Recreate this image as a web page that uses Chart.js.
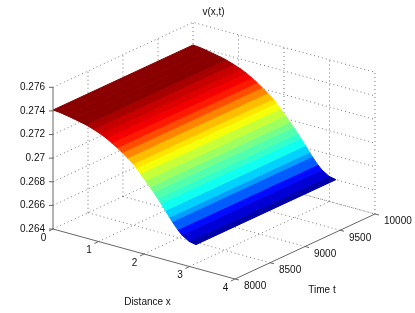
<!DOCTYPE html>
<html>
<head>
<meta charset="utf-8">
<title>v(x,t)</title>
<script src="https://cdn.jsdelivr.net/npm/chart.js@4/dist/chart.umd.min.js"></script>
<style>
    html, body { margin: 0; padding: 0; background: #fff; }
    canvas { display: block; }
</style>
</head>
<body>
<canvas id="surfaceChart" width="415" height="313"></canvas>
<script>
// tick values and labels
var xTicks = [0, 1, 2, 3, 4];
var tTicks = [8000, 8500, 9000, 9500, 10000];
var vTicks = [0.264, 0.266, 0.268, 0.27, 0.272, 0.274, 0.276];
var vTickLabels = ['0.264', '0.266', '0.268', '0.27', '0.272', '0.274', '0.276'];

// surface profile: v along x, same for every t
var surfaceX = [0, 0.15, 0.30, 0.45, 0.60, 0.72, 0.89, 1.05, 1.17, 1.29, 1.41, 1.52, 1.64, 1.76,
    1.83, 1.92, 2.03, 2.13, 2.21, 2.30, 2.37, 2.47, 2.56, 2.62, 2.74, 2.83, 2.99, 3.14];
var surfaceV = [0.27408, 0.27403, 0.27393, 0.27382, 0.27370, 0.27360, 0.27338, 0.27315, 0.27293, 0.27266,
    0.27238, 0.27208, 0.27175, 0.27138, 0.27110, 0.27072, 0.27025, 0.26982, 0.26946, 0.26903,
    0.26868, 0.26818, 0.26770, 0.26740, 0.26685, 0.26650, 0.26612, 0.26600];
// colormap position of each strip
var stripLevels = [0.99, 0.99, 0.99, 0.99, 0.99, 0.96, 0.93, 0.907, 0.886, 0.85, 0.80, 0.745, 0.69,
    0.65, 0.615, 0.57, 0.53, 0.49, 0.455, 0.425, 0.39, 0.33, 0.28, 0.215, 0.135, 0.085, 0.04];
var surfaceT = [8000, 10000];

// view of the 3d box on the plane of the two hidden scales
function project(x, t, v) {
    return {
        x: 53 + x * 45.5 + (t - 8000) * 0.07,
        y: 229 + x * 12.5 - (t - 8000) * 0.0325 - (v - 0.264) * 11808
    };
}

function jet(f) {
    function c(d) { return Math.round(255 * Math.max(0, Math.min(1, 1.5 - Math.abs(4 * f - d)))); }
    return 'rgb(' + c(3) + ',' + c(2) + ',' + c(1) + ')';
}

var xLast = xTicks[xTicks.length - 1];
var tFirst = tTicks[0], tLast = tTicks[tTicks.length - 1];
var vFirst = vTicks[0], vLast = vTicks[vTicks.length - 1];
var datasets = [];

function addLine(points, color, dash, order, width) {
    datasets.push({
        data: points, showLine: true, pointRadius: 0, tension: 0, fill: false,
        borderColor: color, borderWidth: width || 1, borderDash: dash, order: order
    });
}

// dotted grid on the floor and the two back walls
var dots = [1, 3];
var gridColor = '#777';
xTicks.forEach(function (x) {
    if (x > 0) {
        addLine([project(x, tLast, vFirst), project(x, tLast, vLast)], gridColor, dots, 3);
    }
    if (x > 0 && x < xLast) {
        addLine([project(x, tFirst, vFirst), project(x, tLast, vFirst)], gridColor, dots, 3);
    }
});
tTicks.forEach(function (t) {
    if (t > tFirst) {
        addLine([project(0, t, vFirst), project(0, t, vLast)], gridColor, dots, 3);
        addLine([project(0, t, vFirst), project(xLast, t, vFirst)], gridColor, dots, 3);
    }
});
vTicks.forEach(function (v) {
    addLine([project(0, tFirst, v), project(0, tLast, v), project(xLast, tLast, v)], gridColor, dots, 3);
});

// the surface, one filled strip per colour
stripLevels.forEach(function (level, i) {
    var col = jet(level);
    datasets.push({
        data: [
            project(surfaceX[i], surfaceT[0], surfaceV[i]),
            project(surfaceX[i], surfaceT[1], surfaceV[i]),
            project(surfaceX[i + 1], surfaceT[1], surfaceV[i + 1]),
            project(surfaceX[i + 1], surfaceT[0], surfaceV[i + 1]),
            project(surfaceX[i], surfaceT[0], surfaceV[i])
        ],
        showLine: true, pointRadius: 0, tension: 0, fill: 'shape',
        backgroundColor: col, borderColor: col, borderWidth: 1, order: 2
    });
});

// solid axes and tick marks
var axisColor = '#666';
addLine([project(0, tFirst, vFirst), project(0, tFirst, vLast)], axisColor, [], 1);
addLine([project(0, tFirst, vFirst), project(xLast, tFirst, vFirst), project(xLast, tLast, vFirst)], axisColor, [], 1);
xTicks.forEach(function (x) {
    var p = project(x, tFirst, vFirst);
    addLine([p, { x: p.x - 4, y: p.y + 2 }], axisColor, [], 1);
});
tTicks.forEach(function (t) {
    var p = project(xLast, t, vFirst);
    addLine([p, { x: p.x + 4, y: p.y + 1 }], axisColor, [], 1);
});
vTicks.forEach(function (v) {
    var p = project(0, tFirst, v);
    addLine([p, { x: p.x - 4, y: p.y }], axisColor, [], 1);
});

// tick labels and axis titles sit on the oblique axes, so they are drawn here
var boxLabels = {
    id: 'boxLabels',
    afterDraw: function (chart) {
        var c = chart.ctx;
        var sx = chart.scales.x, sy = chart.scales.y;
        function put(text, px, py, align) {
            c.textAlign = align;
            c.fillText(text, sx.getPixelForValue(px), sy.getPixelForValue(py));
        }
        c.save();
        c.fillStyle = '#111';
        c.font = '10px "Liberation Sans", Arial, sans-serif';
        c.textBaseline = 'middle';
        vTicks.forEach(function (v, i) {
            var p = project(0, tFirst, v);
            put(vTickLabels[i], p.x - 8, p.y, 'right');
        });
        xTicks.forEach(function (x) {
            var p = project(x, tFirst, vFirst);
            put(String(x), p.x - 9.5, p.y + 9, 'center');
        });
        tTicks.forEach(function (t) {
            var p = project(xLast, t, vFirst);
            put(String(t), p.x + 9, p.y + 7.5, 'left');
        });
        put('v(x,t)', 213.5, 12, 'center');
        put('Distance x', 147.5, 302.5, 'center');
        put('Time t', 322, 290, 'center');
        c.restore();
    }
};

var surfaceChart = new Chart(document.getElementById('surfaceChart').getContext('2d'), {
    type: 'scatter',
    data: { datasets: datasets },
    plugins: [boxLabels],
    options: {
        responsive: false,
        animation: false,
        events: [],
        layout: { padding: 0 },
        plugins: { legend: { display: false }, title: { display: false }, tooltip: { enabled: false } },
        scales: {
            x: { type: 'linear', display: false, min: 0, max: 415 },
            y: { type: 'linear', display: false, min: 0, max: 313, reverse: true }
        }
    }
});
</script>
</body>
</html>
